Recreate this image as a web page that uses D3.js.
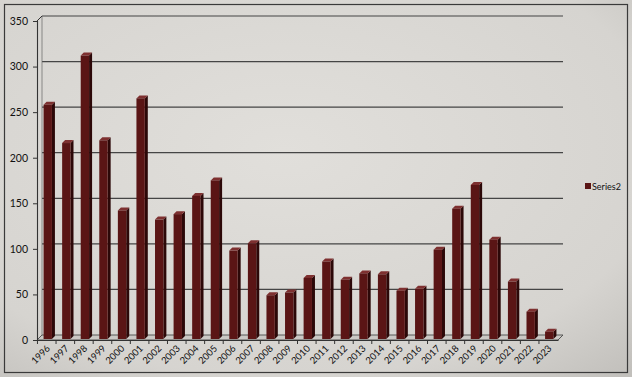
<!DOCTYPE html>
<html><head><meta charset="utf-8">
<script src="https://cdn.jsdelivr.net/npm/d3@7"></script>
<style>html,body{margin:0;padding:0;background:#c9c7c3;}svg{display:block;}</style>
</head><body>
<script>
const years = ["1996","1997","1998","1999","2000","2001","2002","2003","2004","2005","2006","2007","2008","2009","2010","2011","2012","2013","2014","2015","2016","2017","2018","2019","2020","2021","2022","2023"];
const series2 = [257,215,311,218,141,264,131,137,157,174,97,105,48,51,67,85,65,72,71,53,55,98,143,169,109,63,30,8];
const yTicks = [0,50,100,150,200,250,300,350];
const seriesName = "Series2";

const W = 632, H = 377;
const FONT = "Lato, 'Open Sans', sans-serif";
const svg = d3.select("body").append("svg").attr("width", W).attr("height", H);
const defs = svg.append("defs");
const rg = defs.append("radialGradient").attr("id","bg").attr("cx","45%").attr("cy","40%").attr("r","80%");
rg.append("stop").attr("offset","0%").attr("stop-color","#e1dfdb");
rg.append("stop").attr("offset","75%").attr("stop-color","#d6d4d0");
rg.append("stop").attr("offset","100%").attr("stop-color","#c2c0bc");
svg.append("rect").attr("width",W).attr("height",H).attr("fill","url(#bg)");
svg.append("rect").attr("x",4.5).attr("y",4.5).attr("width",623).attr("height",368)
  .attr("fill","none").attr("stroke","#3a3a3a").attr("stroke-width",1.2);

const x = d3.scaleBand().domain(years).range([37,558]).paddingInner(0.55).paddingOuter(0.3);
const y = d3.scaleLinear().domain([0,350]).range([340,21]);
const dx = 5, dy = -5;

svg.append("g").selectAll("line").data(yTicks.filter(t=>t>0)).join("line")
  .attr("x1",37+dx).attr("x2",558+dx)
  .attr("y1",d=>y(d)+dy).attr("y2",d=>y(d)+dy)
  .attr("stroke","#454545").attr("stroke-width",1.2);
svg.append("line").attr("x1",37+dx).attr("x2",37+dx).attr("y1",y(0)+dy).attr("y2",y(350)+dy)
  .attr("stroke","#666").attr("stroke-width",0.7);
svg.append("path").attr("d",`M37,${y(0)}L${37+dx},${y(0)+dy}L${558+dx},${y(0)+dy}L558,${y(0)}Z`)
  .attr("fill","#cac8c4").attr("stroke","#4a4a4a").attr("stroke-width",0.9);
svg.append("line").attr("x1",37).attr("y1",y(350)).attr("x2",37+dx).attr("y2",y(350)+dy)
  .attr("stroke","#333").attr("stroke-width",1);

const bw = x.bandwidth(), sd = 3;
const bars = svg.append("g").selectAll("g").data(years.map((yr,i)=>({yr,v:series2[i]}))).join("g");
bars.append("path").attr("d",d=>{const x0=x(d.yr)+bw+1,yt=y(d.v)-1,yb=y(0)-1;
  return `M${x0},${yt}L${x0+sd},${yt-sd}L${x0+sd},${yb-sd}L${x0},${yb}Z`;}).attr("fill","#2c0808");
bars.append("path").attr("d",d=>{const x0=x(d.yr)+1,yt=y(d.v)-1;
  return `M${x0},${yt}L${x0+sd},${yt-sd}L${x0+bw+sd},${yt-sd}L${x0+bw},${yt}Z`;}).attr("fill","#7e3030");
bars.append("rect").attr("x",d=>x(d.yr)+1).attr("y",d=>y(d.v)-1).attr("width",bw)
  .attr("height",d=>y(0)-y(d.v)).attr("fill","#5a1515");

const yAxis = svg.append("g").attr("transform","translate(37,0)")
  .call(d3.axisLeft(y).tickValues(yTicks).tickSize(4).tickPadding(5));
yAxis.select(".domain").attr("stroke","#333").attr("stroke-width",1.1);
yAxis.selectAll(".tick line").attr("stroke","#333");
yAxis.selectAll("text").attr("font-family",FONT).attr("font-size",10.5).attr("fill","#111");

const xAxis = svg.append("g").attr("transform",`translate(0,${y(0)})`)
  .call(d3.axisBottom(x).tickSize(4).tickSizeOuter(0));
xAxis.select(".domain").attr("stroke","#333").attr("stroke-width",1.1);
xAxis.selectAll(".tick line").attr("stroke","#333").attr("transform",`translate(${-x.step()/2},0)`);
xAxis.selectAll("text").attr("font-family",FONT).attr("font-size",9.5).attr("fill","#111")
  .attr("text-anchor","end").attr("dy",0).attr("y",0)
  .attr("transform","translate(4,9) rotate(-45)");

const lg = svg.append("g").attr("transform","translate(585,187)");
lg.append("rect").attr("x",0).attr("y",-4).attr("width",6).attr("height",6).attr("fill","#5a1515");
lg.append("text").attr("x",7).attr("y",2.5).text(seriesName)
  .attr("font-family",FONT).attr("font-size",9).attr("fill","#111");
</script>
</body></html>
